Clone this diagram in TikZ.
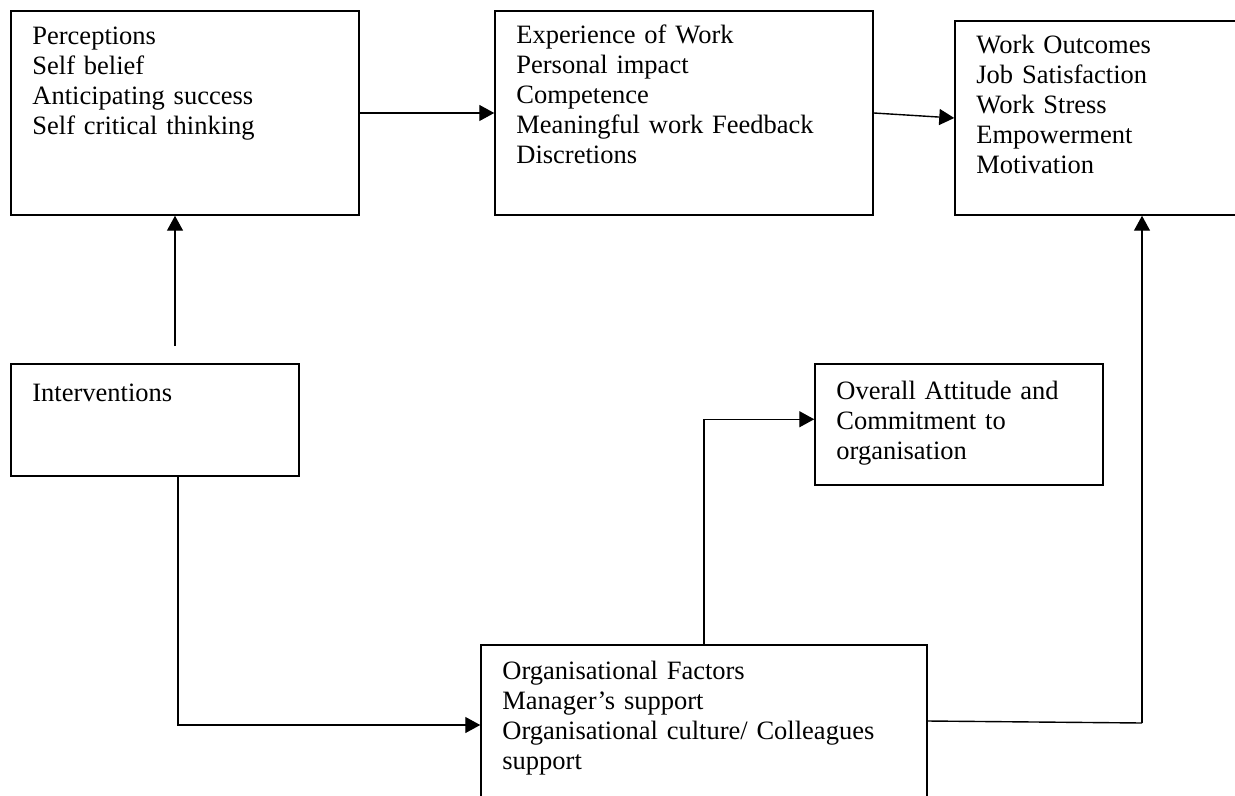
\documentclass[tikz,border=0pt]{standalone}
\usepackage{fontspec}
\setmainfont{Liberation Serif}
\usetikzlibrary{arrows.meta,fit,calc}
\begin{document}
\begin{tikzpicture}[x=0.5pt,y=-0.5pt,
  box/.style={draw,line width=0.75pt,inner sep=0pt,rectangle},
  txt/.style={anchor=base west,inner sep=0pt,align=left,text width=#1,
    font=\fontsize{13.25}{15}\selectfont},
  txt/.default=220pt,
  arr/.style={line width=0.7pt,-{Triangle[length=7.5pt,width=8pt]}},
  ln/.style={line width=0.7pt}]
\useasboundingbox (0,0) rectangle (1235,796);
\clip (0,0) rectangle (1235,796);

% boxes
\node[box,fit={(11,11) (359,215)}] (perc) {};
\node[box,fit={(495,11) (873,215)}] (exp) {};
\node[box,fit={(955,21) (1260,215)}] (wo) {};
\node[box,fit={(11,364) (299,476)}] (interv) {};
\node[box,fit={(815,364) (1103,485)}] (overall) {};
\node[box,fit={(481,645) (927,805)}] (org) {};

% box texts
\node[txt] (percT) at (32,45) {Perceptions\\Self belief\\Anticipating success\\Self critical thinking};
\node[txt] (expT) at (516,44) {Experience of Work\\Personal impact\\Competence\\Meaningful work Feedback\\Discretions};
\node[txt] (woT) at (976,54) {Work Outcomes\\Job Satisfaction\\Work Stress\\Empowerment\\Motivation};
\node[txt] (intervT) at (32,401) {Interventions};
\node[txt] (overallT) at (836,399) {Overall Attitude and\\Commitment to\\organisation};
\node[txt=240pt] (orgT) at (502,679) {Organisational Factors\\Manager’s support\\Organisational culture/ Colleagues\\support};

% connector helpers
\coordinate (ivtop) at (175,346);
\coordinate (ivx) at (178,0);
\coordinate (ocx) at (704,0);
\coordinate (orgout) at (927,721);
\coordinate (wocorner) at (1142,723);

% connectors
\draw[arr] (ivtop) -- (ivtop |- perc.south);
\draw[arr] (perc.east) -- (exp.west);
\draw[arr] (exp.east) -- (wo.west);
\draw[arr] (interv.south -| ivx) |- (org.west);
\draw[arr] (org.north -| ocx) |- ($(overall.north west)+(0,56)$);
\draw[ln] (orgout) -- (wocorner);
\draw[arr] (wocorner) -- (wocorner |- wo.south);
\end{tikzpicture}
\end{document}
